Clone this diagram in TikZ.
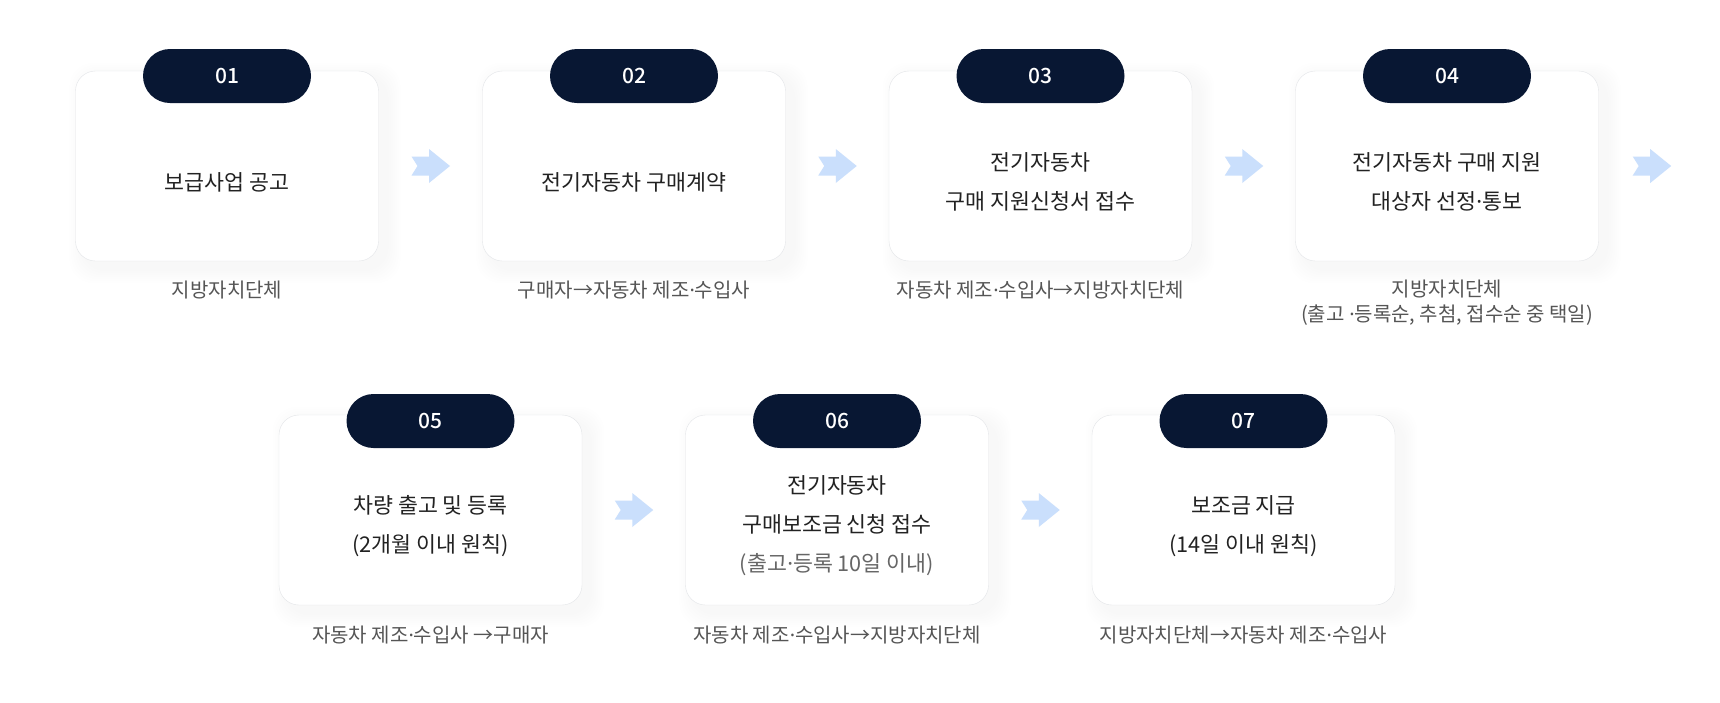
\documentclass[tikz,border=0pt]{standalone}
\usepackage{fontspec}
\setmainfont{Noto Sans CJK KR}
\newfontfamily\numfont{Noto Sans CJK KR Medium}
\newfontfamily\dotfont{Noto Sans}
\newcommand{\mdot}{{\dotfont ·}}
\usetikzlibrary{calc,backgrounds}
\definecolor{navy}{HTML}{081733}
\definecolor{arrowblue}{HTML}{CADFFC}
\definecolor{boxline}{HTML}{E3E5E8}
\definecolor{maintext}{HTML}{222222}
\definecolor{subtext}{HTML}{555555}
\definecolor{notetext}{HTML}{666666}

\begin{document}
\begin{tikzpicture}[x=1pt,y=-1pt,
  stepbox/.style={draw=boxline, fill=white, rounded corners=20pt, minimum width=303pt, minimum height=190pt},
  numpill/.style={fill=navy, text=white, rounded corners=27pt, minimum width=168pt, minimum height=54pt,
    font=\numfont\fontsize{21}{21}\selectfont},
  steptext/.style={text=maintext, align=center, font=\fontsize{21.7}{39}\selectfont},
  steplabel/.style={text=subtext, align=center, font=\fontsize{20}{25}\selectfont},
  flowarrow/.pic={\fill[arrowblue] (-19,-9.5) -- (-1.5,-9.5) -- (-1.5,-17) -- (19.5,0) -- (-1.5,17) -- (-1.5,9.5) -- (-19,9.5) -- (-13,0) -- cycle;}]
\useasboundingbox (0,0) rectangle (1720,702);

% first row
\node[stepbox] (1) at (227,166) {};
\node[stepbox] (2) at (634,166) {};
\node[stepbox] (3) at (1040.5,166) {};
\node[stepbox] (4) at (1447,166) {};

% second row
\node[stepbox] (5) at (430.5,510) {};
\node[stepbox] (6) at (837,510) {};
\node[stepbox] (7) at (1243.5,510) {};

% soft shadow behind the boxes
\begin{scope}[on background layer]
\fill[white] (0,0) rectangle (1720,702);
\foreach \b in {1,...,7}
  \foreach \k in {2,4,...,14}
    \fill[black, opacity=0.005, rounded corners=24pt]
      ([shift={(8-\k,6-\k)}]\b.north west) rectangle ([shift={(8+\k,8+\k)}]\b.south east);
\end{scope}

\node[numpill] (n1) at (227,76) {01};
\node[numpill] (n2) at (634,76) {02};
\node[numpill] (n3) at (1040.5,76) {03};
\node[numpill] (n4) at (1447,76) {04};
\node[numpill] (n5) at (430.5,421) {05};
\node[numpill] (n6) at (837,421) {06};
\node[numpill] (n7) at (1243.5,421) {07};

\node[steptext] (t1) at (227,182) {보급사업 공고};
\node[steptext] (t2) at (634,182) {전기자동차 구매계약};
\node[steptext] (t3) at (1040.5,182) {전기자동차\\구매 지원신청서 접수};
\node[steptext] (t4) at (1447,182) {전기자동차 구매 지원\\대상자 선정\mdot 통보};
\node[steptext] (t5) at (430.5,526) {차량 출고 및 등록\\(2개월 이내 원칙)};
\node[steptext] (t6) at (837,526) {전기자동차\\구매보조금 신청 접수\\\textcolor{notetext}{(출고\mdot 등록 10일 이내)}};
\node[steptext] (t7) at (1243.5,526) {보조금 지급\\(14일 이내 원칙)};

\node[steplabel] (l1) at (227,290) {지방자치단체};
\node[steplabel] (l2) at (634,290) {구매자→자동차 제조\mdot 수입사};
\node[steplabel] (l3) at (1040.5,290) {자동차 제조\mdot 수입사→지방자치단체};
\node[steplabel] (l4) at (1447,302.5) {지방자치단체\\(출고 \mdot 등록순, 추첨, 접수순 중 택일)};
\node[steplabel] (l5) at (430.5,635) {자동차 제조\mdot 수입사 →구매자};
\node[steplabel] (l6) at (837,635) {자동차 제조\mdot 수입사→지방자치단체};
\node[steplabel] (l7) at (1243.5,635) {지방자치단체→자동차 제조\mdot 수입사};

\pic at ($(1.east)!0.5!(2.west)$) {flowarrow};
\pic at ($(2.east)!0.5!(3.west)$) {flowarrow};
\pic at ($(3.east)!0.5!(4.west)$) {flowarrow};
\pic at ([xshift=53pt]4.east) {flowarrow};
\pic at ($(5.east)!0.5!(6.west)$) {flowarrow};
\pic at ($(6.east)!0.5!(7.west)$) {flowarrow};
\end{tikzpicture}
\end{document}
